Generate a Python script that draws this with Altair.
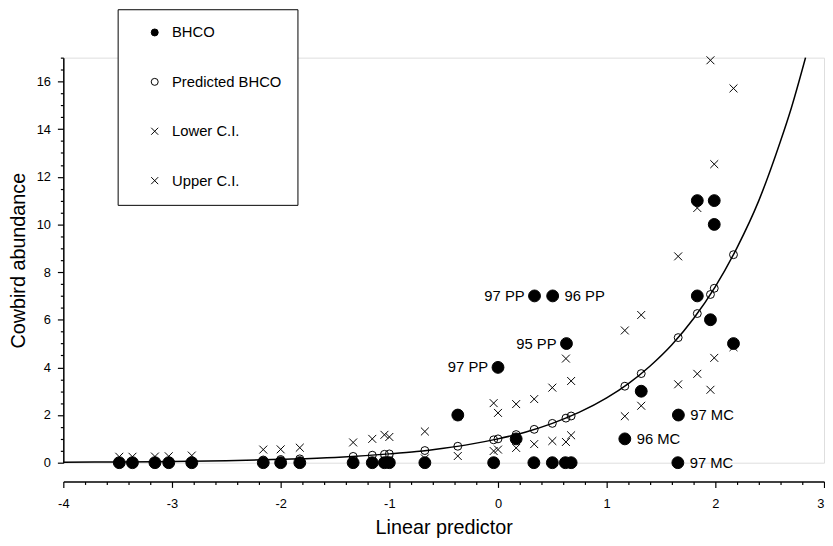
import altair as alt
import pandas as pd

series_names = ["BHCO", "Predicted BHCO", "Lower C.I.", "Upper C.I."]

# observed cowbird abundance (BHCO) vs linear predictor
bhco_x = [-3.485, -3.364, -3.157, -3.03, -2.818, -2.16, -2.0, -1.824, -1.333, -1.157, -1.045, -1.0,
          -0.673, -0.37, -0.04, 0.0, 0.167, 0.33, 0.336, 0.5, 0.503, 0.62, 0.63, 0.673,
          1.167, 1.318, 1.66, 1.655, 1.834, 1.834, 1.99, 1.99, 1.955, 2.167]
bhco_y = [0, 0, 0, 0, 0, 0, 0, 0, 0, 0, 0, 0,
          0, 2, 0, 4, 1, 0, 7, 0, 7, 0, 5, 0,
          1, 3, 2, 0, 11, 7, 11, 10, 6, 5]

# predicted values and confidence limits per site
pred_x = [-3.485, -3.364, -3.157, -3.03, -2.818, -2.16, -2.0, -1.824, -1.333, -1.157, -1.045, -1.0,
          -0.673, -0.37, -0.04, 0.0, 0.167, 0.333, 0.5, 0.625, 0.673, 1.167, 1.318, 1.658,
          1.834, 1.955, 1.99, 2.167]
pred_y = [0.03, 0.035, 0.043, 0.048, 0.06, 0.115, 0.135, 0.161, 0.264, 0.314, 0.352, 0.368,
          0.51, 0.69, 0.96, 1.0, 1.18, 1.4, 1.65, 1.87, 1.96, 3.21, 3.74, 5.25,
          6.26, 7.06, 7.32, 8.73]
lower_y = [0.005, 0.006, 0.007, 0.008, 0.01, 0.02, 0.025, 0.03, 0.07, 0.08, 0.09, 0.1,
           0.18, 0.28, 0.49, 0.55, 0.62, 0.78, 0.91, 0.87, 1.15, 1.95, 2.39, 3.29,
           3.73, 3.06, 4.4, 4.85]
upper_y = [0.25, 0.25, 0.26, 0.27, 0.3, 0.55, 0.56, 0.63, 0.85, 1.0, 1.17, 1.08,
           1.31, 1.95, 2.5, 2.09, 2.46, 2.67, 3.15, 4.37, 3.43, 5.55, 6.2, 8.66,
           10.69, 16.89, 12.53, 15.71]

# fitted curve
curve_x = [-4, -3.5, -3, -2.5, -2, -1.5, -1, -0.75, -0.5, -0.25, 0, 0.25, 0.5, 0.75, 1,
           1.2, 1.4, 1.6, 1.8, 2.0, 2.2, 2.4, 2.6, 2.7, 2.83]
curve_y = [0.02, 0.03, 0.05, 0.08, 0.14, 0.22, 0.37, 0.47, 0.61, 0.78, 1.0, 1.28, 1.65, 2.12, 2.72,
           3.32, 4.06, 4.95, 6.05, 7.39, 9.03, 11.0, 13.5, 14.9, 17.0]

# point annotations
label_text = ["97 PP", "96 PP", "95 PP", "97 PP", "97 MC", "96 MC", "97 MC"]
label_x = [0.336, 0.503, 0.63, 0.0, 1.66, 1.167, 1.655]
label_y = [7, 7, 5, 4, 2, 1, 0]
label_side = ["left", "right", "left", "left", "right", "right", "right"]

x_ticks = [round(-4 + 0.2 * i, 1) for i in range(36)]
y_ticks = [0.5 * i for i in range(35)]

rows = []
for xv, yv in zip(bhco_x, bhco_y):
    rows.append({"x": xv, "y": yv, "series": "BHCO"})
for xv, pv, lv, uv in zip(pred_x, pred_y, lower_y, upper_y):
    rows.append({"x": xv, "y": pv, "series": "Predicted BHCO"})
    rows.append({"x": xv, "y": lv, "series": "Lower C.I."})
    rows.append({"x": xv, "y": uv, "series": "Upper C.I."})
pts = pd.DataFrame(rows)
curve_df = pd.DataFrame({"x": curve_x, "y": curve_y})
lab_df = pd.DataFrame({"x": label_x, "y": label_y, "text": label_text, "side": label_side})

FONT = "Liberation Sans"
xscale = alt.Scale(domain=[-4, 3], nice=False, zero=False)
yscale = alt.Scale(domain=[0, 17], nice=False, zero=False)

x_axis = alt.Axis(
    values=x_ticks, title="Linear predictor", grid=False, offset=19,
    labelExpr="abs(datum.value - round(datum.value)) < 0.001 ? '' + round(datum.value) : ''",
    tickSize={"condition": {"test": "abs(datum.value - round(datum.value)) < 0.001", "value": 6}, "value": 3},
    labelAlign={"condition": {"test": "datum.value > 2.99", "value": "right"}, "value": "center"},
    labelFlush=False, labelOverlap=False, labelBound=False,
    labelFontSize=13, titleFontSize=20, labelPadding=10, titlePadding=8,
    domainColor="black", tickColor="black", labelColor="black", titleColor="black",
    domainWidth=1.5, tickWidth=1.2, titleFontWeight="normal", labelFont=FONT, titleFont=FONT,
)
y_axis = alt.Axis(
    values=y_ticks, title="Cowbird abundance", grid=False,
    labelExpr="abs(datum.value / 2 - round(datum.value / 2)) < 0.001 ? '' + round(datum.value) : ''",
    tickSize={"condition": {"test": "abs(datum.value / 2 - round(datum.value / 2)) < 0.001", "value": 6}, "value": 3},
    labelFlush=False, labelOverlap=False,
    labelFontSize=13, titleFontSize=20, labelPadding=7, titlePadding=8,
    domainColor="black", tickColor="black", labelColor="black", titleColor="black",
    domainWidth=1.5, tickWidth=1.2, titleFontWeight="normal", labelFont=FONT, titleFont=FONT,
)

X = alt.X("x:Q", scale=xscale, axis=x_axis)
Y = alt.Y("y:Q", scale=yscale, axis=y_axis)

curve = alt.Chart(curve_df).mark_line(color="black", strokeWidth=1.5, interpolate="monotone").encode(x=X, y=Y)

legend = alt.Legend(
    title=None, orient="none", legendX=55, legendY=-49, strokeColor="black", fillColor="white",
    padding=16, rowPadding=34, labelFontSize=15, labelFont=FONT, labelColor="black",
    symbolOffset=14, labelOffset=10, symbolStrokeWidth=1, symbolSize=50,
)
xmark = "M-1,-1L1,1M-1,1L1,-1"
points = alt.Chart(pts).mark_point(strokeWidth=1, opacity=1).encode(
    x=X, y=Y,
    shape=alt.Shape("series:N", scale=alt.Scale(domain=series_names, range=["circle", "circle", xmark, xmark]), legend=legend),
    fill=alt.Fill("series:N", scale=alt.Scale(domain=series_names, range=["black", "transparent", "transparent", "transparent"]), legend=legend),
    stroke=alt.Stroke("series:N", scale=alt.Scale(domain=series_names, range=["black", "black", "black", "black"]), legend=legend),
    size=alt.condition("datum.series == 'BHCO'", alt.value(144), alt.value(64)),
)

text_left = alt.Chart(lab_df).transform_filter("datum.side == 'left'").mark_text(
    align="right", baseline="middle", dx=-10, fontSize=15, font=FONT, color="black"
).encode(x=X, y=Y, text="text:N")
text_right = alt.Chart(lab_df).transform_filter("datum.side == 'right'").mark_text(
    align="left", baseline="middle", dx=12, fontSize=15, font=FONT, color="black"
).encode(x=X, y=Y, text="text:N")

chart = alt.layer(curve, points, text_left, text_right).properties(
    width=770, height=410, padding={"left": 0, "top": -3, "right": 0, "bottom": 0}
).configure_view(stroke=None).configure(font=FONT)

chart.save("out.html", embed_options={"renderer": "svg", "actions": False})
